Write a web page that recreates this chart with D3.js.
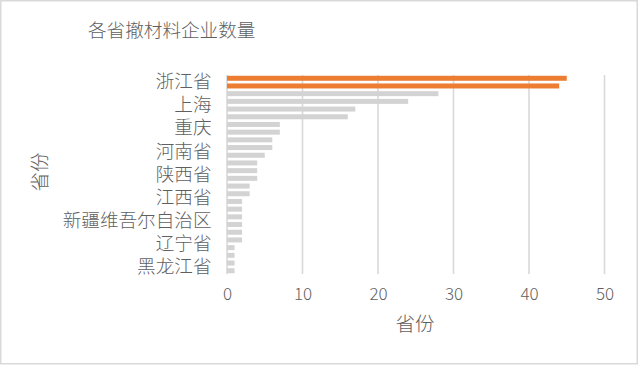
<!DOCTYPE html>
<html><head><meta charset="utf-8">
<script src="https://cdn.jsdelivr.net/npm/d3@7/dist/d3.min.js"></script>
<style>
html,body{margin:0;padding:0;background:#fff;}
svg{display:block;font-family:"Noto Sans CJK SC","Noto Sans",sans-serif;font-weight:300;}
</style></head>
<body>
<svg id="chart" width="638" height="365"></svg>
<script>
const title = "各省撤材料企业数量";
const provinces = ["浙江省","江苏省","广东省","上海","北京","山东省","重庆","四川省","湖北省","河南省","安徽省","福建省","陕西省","天津","湖南省","江西省","河北省","山西省","新疆维吾尔自治区","广西壮族自治区","吉林省","辽宁省","云南省","贵州省","黑龙江省","内蒙古自治区"];
const counts = [45,44,28,24,17,16,7,7,6,6,5,4,4,4,3,3,2,2,2,2,2,2,1,1,1,1];
const highlighted = ["浙江省","江苏省"];
const xTicks = [0,10,20,30,40,50];
const axisTitleX = "省份";
const axisTitleY = "省份";

const svg = d3.select("#chart");
const textColor = "#5f5f5f";
const gridColor = "#d9d9d9";

svg.append("rect").attr("x",0.75).attr("y",0.75).attr("width",636.5).attr("height",363)
  .attr("fill","#fff").attr("stroke",gridColor).attr("stroke-width",1.5);

const x = d3.scaleLinear().domain([0,50]).range([227,604.5]);
const y = d3.scaleBand().domain(provinces).range([75,274]).paddingInner(0.35).paddingOuter(0.1);

// gridlines
svg.append("g").selectAll("line").data(xTicks).join("line")
  .attr("x1",d=>x(d)).attr("x2",d=>x(d)).attr("y1",75).attr("y2",274)
  .attr("stroke",gridColor).attr("stroke-width",1.6);

// bars
svg.append("g").selectAll("rect").data(provinces).join("rect")
  .attr("x",x(0)).attr("y",d=>y(d))
  .attr("width",(d,i)=>x(counts[i])-x(0))
  .attr("height",y.bandwidth())
  .attr("fill",d=>highlighted.includes(d)?"#ED7D31":"#D3D3D3");

// y axis labels (every third)
const yAxis = d3.axisLeft(y).tickValues(provinces.filter((d,i)=>i%3===0)).tickSize(0).tickPadding(0);
const gy = svg.append("g").attr("transform","translate(211.5,0)").call(yAxis);
gy.select(".domain").remove();
gy.selectAll("text").attr("fill",textColor).attr("font-size",18.6)
  .attr("font-family",'"Noto Sans CJK SC",sans-serif').attr("font-weight",300).attr("dy","0.35em")
  .attr("transform","translate(0,3.5)");

// x axis labels
const xAxis = d3.axisBottom(x).tickValues(xTicks).tickSize(0).tickPadding(0);
const gx = svg.append("g").attr("transform","translate(0,294)").call(xAxis);
gx.select(".domain").remove();
gx.selectAll("text").attr("fill",textColor).attr("font-size",17)
  .attr("font-family",'"Noto Sans CJK SC",sans-serif').attr("font-weight",300).attr("dy","0.35em");

// title
svg.append("text").attr("x",88).attr("y",30).attr("dy","0.35em")
  .attr("fill",textColor).attr("font-size",18.6).text(title);

// axis titles
svg.append("text").attr("x",415).attr("y",324).attr("dy","0.35em").attr("text-anchor","middle")
  .attr("fill",textColor).attr("font-size",19.5).text(axisTitleX);
svg.append("text").attr("transform","translate(40,172) rotate(-90)").attr("dy","0.35em").attr("text-anchor","middle")
  .attr("fill",textColor).attr("font-size",19.5).text(axisTitleY);
</script>
</body></html>
